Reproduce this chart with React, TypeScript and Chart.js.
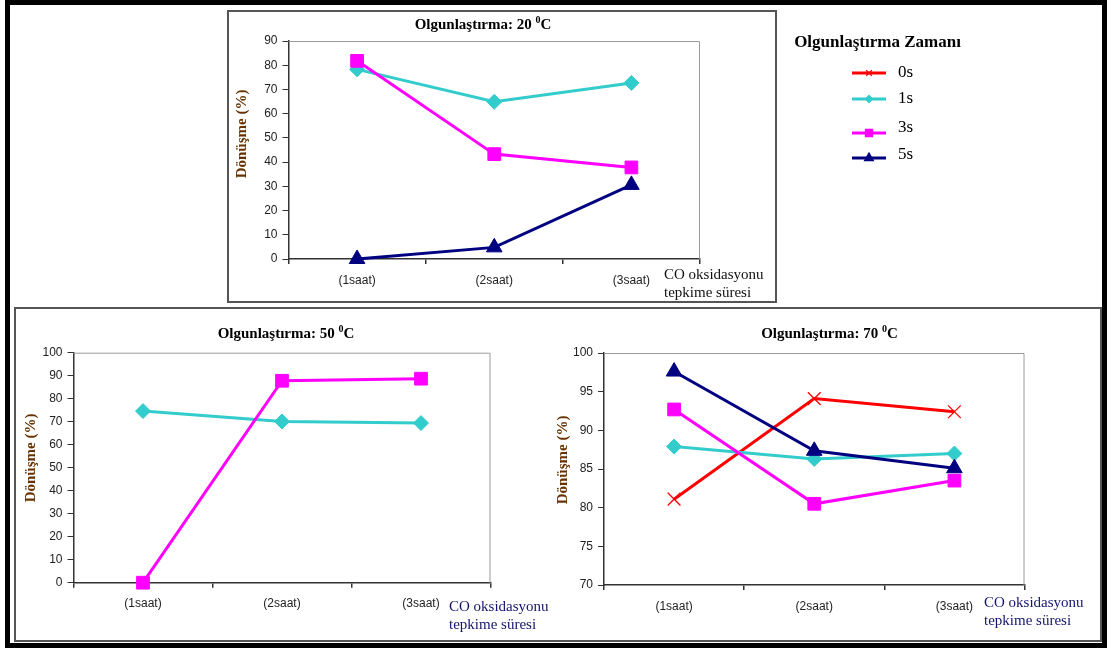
import React, { useEffect, useRef } from "react";
import { Chart, registerables } from "chart.js";
import { drawPoint } from "chart.js/helpers";

Chart.register(...registerables);

const SERIF = "'Liberation Serif', 'Times New Roman', serif";
const SANS = "'Liberation Sans', Arial, sans-serif";

// Reaction time categories (x axis) and aging times (series)
const reactionTimes = ["(1saat)", "(2saat)", "(3saat)"];
const agingTimes = ["0s", "1s", "3s", "5s"];

// Conversion (%) after aging at 20 °C
const aging20_1s = [78.3, 64.9, 72.7];
const aging20_3s = [81.8, 43.3, 37.8];
const aging20_5s = [0, 4.8, 30.6];

// Conversion (%) after aging at 50 °C
const aging50_1s = [74.6, 70.1, 69.4];
const aging50_3s = [0, 87.8, 88.7];

// Conversion (%) after aging at 70 °C
const aging70_0s = [81.1, 94.1, 92.4];
const aging70_1s = [87.9, 86.3, 87.0];
const aging70_3s = [92.7, 80.5, 83.5];
const aging70_5s = [97.6, 87.35, 85.1];

// Value axis ranges
const yRange20 = [0, 90, 10];
const yRange50 = [0, 100, 10];
const yRange70 = [70, 100, 5];

const titleText = "Olgunlaştırma:";
const legendTitle = "Olgunlaştırma Zamanı";
const yTitle = "Dönüşme (%)";
const xTitleLines = ["CO oksidasyonu", "tepkime süresi"];

const seriesStyle: Record<string, { color: string; marker: string; radius: number; legendRadius: number; markerBorder: number }> = {
  "0s": { color: "#ff0000", marker: "crossRot", radius: 9, legendRadius: 4, markerBorder: 1.3 },
  "1s": { color: "#33cccc", marker: "rectRot", radius: 7.5, legendRadius: 3.5, markerBorder: 1 },
  "3s": { color: "#ff00ff", marker: "rect", radius: 9, legendRadius: 5, markerBorder: 1 },
  "5s": { color: "#000080", marker: "triangle", radius: 9, legendRadius: 5, markerBorder: 1 },
};

type PanelCfg = {
  left: number; top: number; width: number; height: number;
  pad: { left: number; top: number; right: number; bottom: number };
  yWidth: number; xHeight: number;
  yRange: number[];
  temp: string;
  titlePos: [number, number];
  yTitlePos: [number, number];
  xTitlePos: [number, number];
  xTitleColor: string;
  legend: boolean;
  series: [string, number[]][];
};

const panels: PanelCfg[] = [
  {
    left: 227, top: 10, width: 760, height: 292,
    pad: { left: 0, top: 31, right: 287, bottom: 0 },
    yWidth: 61.5, xHeight: 43,
    yRange: yRange20, temp: "20",
    titlePos: [256, 14], yTitlePos: [15, 124], xTitlePos: [437, 265],
    xTitleColor: "#111111", legend: true,
    series: [["1s", aging20_1s], ["3s", aging20_3s], ["5s", aging20_5s]],
  },
  {
    left: 15, top: 308, width: 570, height: 333,
    pad: { left: 0, top: 44.7, right: 94.5, bottom: 0 },
    yWidth: 58.5, xHeight: 58.3,
    yRange: yRange50, temp: "50",
    titlePos: [271, 25], yTitlePos: [16, 150], xTitlePos: [434, 299],
    xTitleColor: "#14146e", legend: false,
    series: [["1s", aging50_1s], ["3s", aging50_3s]],
  },
  {
    left: 545, top: 308, width: 555, height: 333,
    pad: { left: 0, top: 45, right: 75.5, bottom: 0 },
    yWidth: 59, xHeight: 56,
    yRange: yRange70, temp: "70",
    titlePos: [284.5, 25], yTitlePos: [18.5, 152], xTitlePos: [439, 295],
    xTitleColor: "#14146e", legend: false,
    series: [["0s", aging70_0s], ["1s", aging70_1s], ["3s", aging70_3s], ["5s", aging70_5s]],
  },
];

function drawTitle(ctx: CanvasRenderingContext2D, cx: number, cy: number, temp: string) {
  const big = `bold 15px ${SERIF}`;
  const small = `bold 10px ${SERIF}`;
  const head = `${titleText} ${temp} `;
  ctx.font = big;
  const wHead = ctx.measureText(head).width;
  const wC = ctx.measureText("C").width;
  ctx.font = small;
  const wDeg = ctx.measureText("0").width;
  let x = cx - (wHead + wDeg + wC) / 2;
  const base = cy + 5;
  ctx.fillStyle = "#000";
  ctx.textAlign = "left";
  ctx.textBaseline = "alphabetic";
  ctx.font = big;
  ctx.fillText(head, x, base);
  x += wHead;
  ctx.font = small;
  ctx.fillText("0", x, base - 6);
  x += wDeg;
  ctx.font = big;
  ctx.fillText("C", x, base);
}

function drawLegend(ctx: CanvasRenderingContext2D) {
  ctx.fillStyle = "#000";
  ctx.font = `bold 17px ${SERIF}`;
  ctx.textAlign = "center";
  ctx.textBaseline = "middle";
  ctx.fillText(legendTitle, 650.5, 33);
  const rows = [63, 89, 123, 148];
  const textRows = [63, 89, 118, 145];
  agingTimes.forEach((name, i) => {
    const st = seriesStyle[name];
    const y = rows[i];
    ctx.strokeStyle = st.color;
    ctx.fillStyle = st.color;
    ctx.lineWidth = 3;
    ctx.beginPath();
    ctx.moveTo(625, y);
    ctx.lineTo(659, y);
    ctx.stroke();
    ctx.lineWidth = 1.3;
    drawPoint(ctx, { pointStyle: st.marker, radius: st.legendRadius, rotation: 0, borderWidth: 1 } as any, 642, y);
    ctx.fillStyle = "#000";
    ctx.font = `17px ${SERIF}`;
    ctx.textAlign = "left";
    ctx.textBaseline = "middle";
    ctx.fillText(name, 671, textRows[i]);
  });
}

function Panel({ cfg }: { cfg: PanelCfg }) {
  const ref = useRef<HTMLCanvasElement>(null);

  useEffect(() => {
    const canvas = ref.current;
    if (!canvas) return;
    const n = cfg.series.length;
    const datasets = cfg.series.map(([name, values], i) => {
      const st = seriesStyle[name];
      return {
        label: name,
        data: values,
        borderColor: st.color,
        backgroundColor: st.color,
        borderWidth: 3,
        tension: 0,
        pointStyle: st.marker,
        pointRadius: st.radius,
        pointHoverRadius: st.radius,
        pointBackgroundColor: st.color,
        pointBorderColor: st.color,
        pointBorderWidth: st.markerBorder,
        clip: false as any,
        order: n - i,
      };
    });

    const decor = {
      id: "panelDecor",
      beforeDatasetsDraw(chart: any) {
        const { ctx, chartArea: a } = chart;
        ctx.save();
        ctx.strokeStyle = "#9a9a9a";
        ctx.lineWidth = 1;
        ctx.beginPath();
        ctx.moveTo(a.left, a.top + 0.5);
        ctx.lineTo(a.right - 0.5, a.top + 0.5);
        ctx.lineTo(a.right - 0.5, a.bottom);
        ctx.stroke();
        ctx.restore();
      },
      afterDraw(chart: any) {
        const ctx: CanvasRenderingContext2D = chart.ctx;
        ctx.save();
        drawTitle(ctx, cfg.titlePos[0], cfg.titlePos[1], cfg.temp);

        ctx.save();
        ctx.translate(cfg.yTitlePos[0], cfg.yTitlePos[1]);
        ctx.rotate(-Math.PI / 2);
        ctx.fillStyle = "#663300";
        ctx.font = `bold 15px ${SERIF}`;
        ctx.textAlign = "center";
        ctx.textBaseline = "middle";
        ctx.fillText(yTitle, 0, 0);
        ctx.restore();

        ctx.fillStyle = cfg.xTitleColor;
        ctx.font = `15px ${SERIF}`;
        ctx.textAlign = "left";
        ctx.textBaseline = "middle";
        xTitleLines.forEach((line, i) => {
          ctx.fillText(line, cfg.xTitlePos[0], cfg.xTitlePos[1] + i * 18);
        });

        if (cfg.legend) drawLegend(ctx);
        ctx.restore();
      },
    };

    const chart = new Chart(canvas, {
      type: "line",
      data: { labels: reactionTimes, datasets: datasets as any },
      options: {
        responsive: false,
        animation: false,
        devicePixelRatio: 1,
        events: [],
        layout: { padding: cfg.pad },
        plugins: {
          legend: { display: false },
          title: { display: false },
          tooltip: { enabled: false },
        },
        scales: {
          x: {
            type: "category",
            offset: true,
            grid: {
              display: true,
              drawOnChartArea: false,
              drawTicks: true,
              tickLength: 5,
              color: "#333",
              lineWidth: 1.5,
              offset: true,
            },
            border: { display: true, color: "#333", width: 1.5 },
            ticks: {
              color: "#222",
              font: { family: SANS, size: 12 },
              padding: 9,
              maxRotation: 0,
              autoSkip: false,
            },
            afterFit: (scale: any) => {
              scale.height = cfg.xHeight;
            },
          },
          y: {
            min: cfg.yRange[0],
            max: cfg.yRange[1],
            grid: {
              display: true,
              drawOnChartArea: false,
              drawTicks: true,
              tickLength: 6,
              color: "#333",
              lineWidth: 1,
            },
            border: { display: true, color: "#333", width: 1.5 },
            ticks: {
              stepSize: cfg.yRange[2],
              color: "#222",
              font: { family: SANS, size: 12 },
              padding: 5,
            },
            afterFit: (scale: any) => {
              scale.width = cfg.yWidth;
            },
          },
        },
      } as any,
      plugins: [decor],
    });
    return () => chart.destroy();
  }, [cfg]);

  return (
    <canvas
      ref={ref}
      width={cfg.width}
      height={cfg.height}
      style={{ position: "absolute", left: cfg.left, top: cfg.top, width: cfg.width, height: cfg.height }}
    />
  );
}

export default function App() {
  return (
    <div style={{ position: "fixed", left: 0, top: 0, width: 1109, height: 650, background: "#fff", overflow: "hidden" }}>
      <div style={{ position: "absolute", left: 5, top: 0, width: 1102, height: 648, border: "5px solid #000", boxSizing: "border-box" }} />
      <div style={{ position: "absolute", left: 227, top: 10, width: 550, height: 293, border: "2px solid #555", boxSizing: "border-box" }} />
      <div style={{ position: "absolute", left: 14, top: 307, width: 1088, height: 335, border: "2px solid #555", boxSizing: "border-box" }} />
      {panels.map((p, i) => (
        <Panel key={i} cfg={p} />
      ))}
    </div>
  );
}
